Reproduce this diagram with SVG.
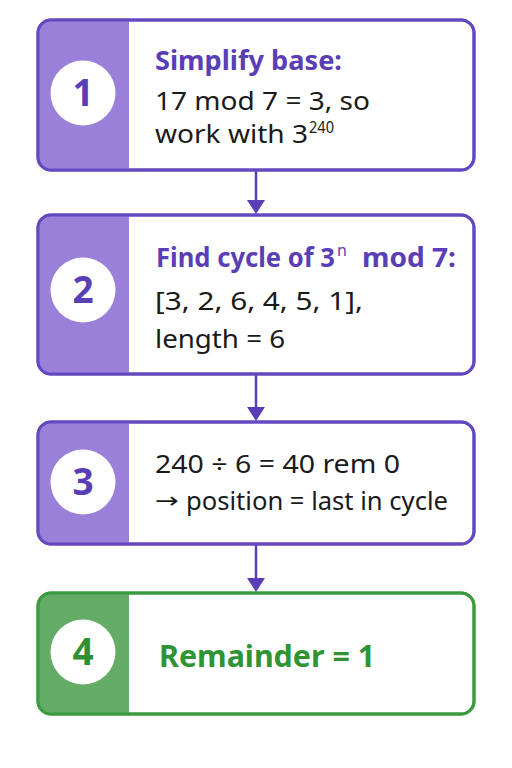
<svg xmlns="http://www.w3.org/2000/svg" width="512" height="768" viewBox="0 0 512 768">
<defs>
<style>
.box{fill:#ffffff;stroke-width:3}
.p .box{stroke:#6448c0}
.g .box{stroke:#3a9a3e}
.p .band{fill:#9a80d8}
.g .band{fill:#64ab66}
.num{font-family:"Open Sans","Noto Sans",sans-serif;font-weight:700;font-size:37px;text-anchor:middle}
.p .num{fill:#5a3eb6}
.g .num{fill:#2e8f34}
.t{font-family:"Noto Sans","Open Sans",sans-serif;font-size:26px;fill:#1a1a1a}
.h{font-weight:700;fill:#5a3eb6}
.sup{font-family:"Noto Sans","Open Sans",sans-serif;font-size:16px;fill:#1a1a1a}
.arr{font-family:"DejaVu Sans",sans-serif;font-size:22px;fill:#1a1a1a}
.res{font-family:"Noto Sans","Open Sans",sans-serif;font-weight:700;font-size:30px;fill:#2e9434}
.conn{stroke:#5a3eb6;stroke-width:2.5;fill:none}
.ah{fill:#5a3eb6}
</style>
<clipPath id="c1"><rect x="38" y="20" width="436" height="150" rx="13"/></clipPath>
<clipPath id="c2"><rect x="38" y="215" width="436" height="159" rx="13"/></clipPath>
<clipPath id="c3"><rect x="38" y="422" width="436" height="122" rx="13"/></clipPath>
<clipPath id="c4"><rect x="38" y="593" width="436" height="121" rx="13"/></clipPath>
</defs>
<rect width="512" height="768" fill="#ffffff"/>

<g id="connectors">
<line class="conn" x1="256" y1="171" x2="256" y2="201"/>
<path class="ah" d="M247,200 L265,200 L256,214 Z"/>
<line class="conn" x1="256" y1="375" x2="256" y2="408"/>
<path class="ah" d="M247,407 L265,407 L256,421 Z"/>
<line class="conn" x1="256" y1="545" x2="256" y2="579"/>
<path class="ah" d="M247,578 L265,578 L256,592 Z"/>
</g>

<g id="node1" class="p">
<rect class="box" x="38" y="20" width="436" height="150" rx="13"/>
<rect class="band" x="38" y="20" width="91" height="150" clip-path="url(#c1)"/>
<rect class="box" x="38" y="20" width="436" height="150" rx="13" style="fill:none"/>
<circle cx="83" cy="93" r="32.5" fill="#ffffff"/>
<text class="num" x="83" y="106">1</text>
<text class="t h" x="155" y="70" textLength="187" lengthAdjust="spacingAndGlyphs">Simplify base:</text>
<text class="t" x="155" y="110" textLength="215" lengthAdjust="spacingAndGlyphs">17 mod 7 = 3, so</text>
<text class="t" x="155" y="143" textLength="153" lengthAdjust="spacingAndGlyphs">work with 3</text>
<text class="sup" x="309" y="133" textLength="25" lengthAdjust="spacingAndGlyphs">240</text>
</g>

<g id="node2" class="p">
<rect class="box" x="38" y="215" width="436" height="159" rx="13"/>
<rect class="band" x="38" y="215" width="91" height="159" clip-path="url(#c2)"/>
<rect class="box" x="38" y="215" width="436" height="159" rx="13" style="fill:none"/>
<circle cx="83" cy="290" r="32.5" fill="#ffffff"/>
<text class="num" x="83" y="303">2</text>
<text class="t h" x="156" y="267" textLength="179" lengthAdjust="spacingAndGlyphs">Find cycle of 3</text>
<text class="sup" x="337" y="256" style="fill:#5a3eb6">n</text>
<text class="t h" x="362" y="267" textLength="94" lengthAdjust="spacingAndGlyphs">mod 7:</text>
<text class="t" x="155" y="310" textLength="208" lengthAdjust="spacingAndGlyphs">[3, 2, 6, 4, 5, 1],</text>
<text class="t" x="155" y="348" textLength="130" lengthAdjust="spacingAndGlyphs">length = 6</text>
</g>

<g id="node3" class="p">
<rect class="box" x="38" y="422" width="436" height="122" rx="13"/>
<rect class="band" x="38" y="422" width="91" height="122" clip-path="url(#c3)"/>
<rect class="box" x="38" y="422" width="436" height="122" rx="13" style="fill:none"/>
<circle cx="83" cy="482" r="32.5" fill="#ffffff"/>
<text class="num" x="83" y="495">3</text>
<text class="t" x="155" y="473" textLength="245" lengthAdjust="spacingAndGlyphs">240 ÷ 6 = 40 rem 0</text>
<text class="arr" x="155" y="508" textLength="24" lengthAdjust="spacingAndGlyphs">→</text>
<text class="t" x="186" y="510" textLength="262" lengthAdjust="spacingAndGlyphs">position = last in cycle</text>
</g>

<g id="node4" class="g">
<rect class="box" x="38" y="593" width="436" height="121" rx="13"/>
<rect class="band" x="38" y="593" width="91" height="121" clip-path="url(#c4)"/>
<rect class="box" x="38" y="593" width="436" height="121" rx="13" style="fill:none"/>
<circle cx="83" cy="652" r="32.5" fill="#ffffff"/>
<text class="num" x="83" y="665">4</text>
<text class="res" x="159" y="667" textLength="216" lengthAdjust="spacingAndGlyphs">Remainder = 1</text>
</g>
</svg>
